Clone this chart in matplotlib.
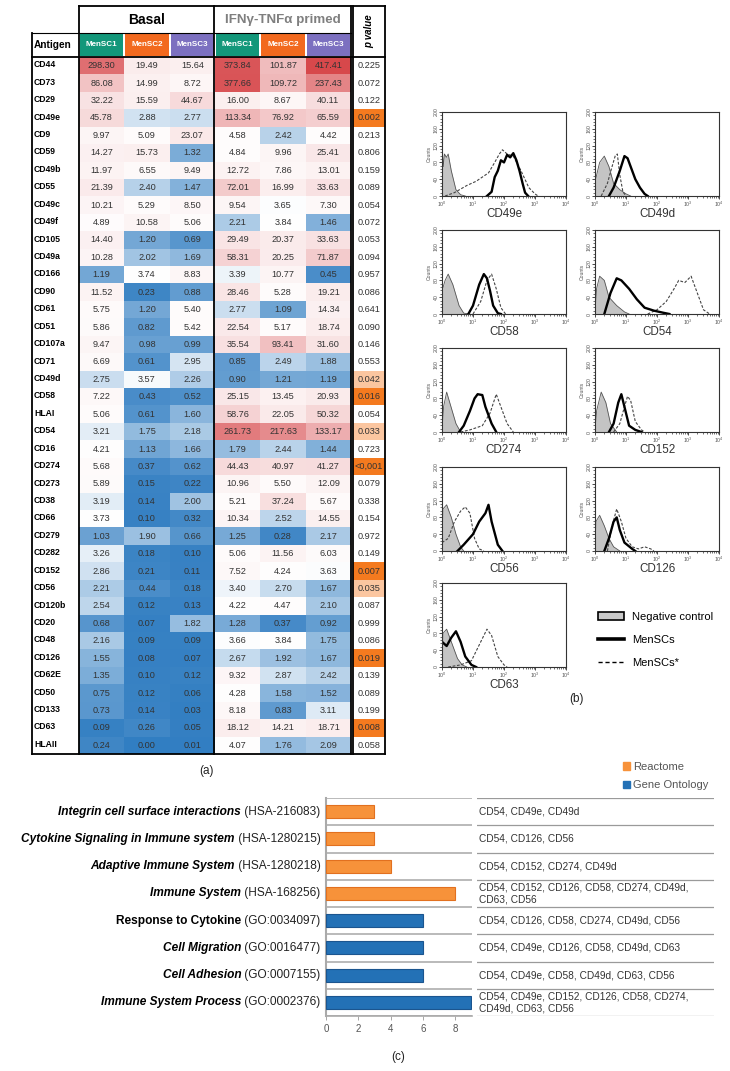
import numpy as np
import matplotlib
matplotlib.use("Agg")
import matplotlib.pyplot as plt
from matplotlib.patches import Patch, Rectangle
from matplotlib.lines import Line2D
from matplotlib.ticker import MultipleLocator, LogLocator, NullFormatter

plt.rcParams['font.family'] = ['Liberation Sans', 'DejaVu Sans']

W, H = 730, 1071

# ---------------- (a) table data ----------------
antigens = ["CD44", "CD73", "CD29", "CD49e", "CD9", "CD59", "CD49b", "CD55", "CD49c", "CD49f",
            "CD105", "CD49a", "CD166", "CD90", "CD61", "CD51", "CD107a", "CD71", "CD49d", "CD58",
            "HLAI", "CD54", "CD16", "CD274", "CD273", "CD38", "CD66", "CD279", "CD282", "CD152",
            "CD56", "CD120b", "CD20", "CD48", "CD126", "CD62E", "CD50", "CD133", "CD63", "HLAII"]
basal1 = [298.30, 86.08, 32.22, 45.78, 9.97, 14.27, 11.97, 21.39, 10.21, 4.89, 14.40, 10.28, 1.19, 11.52,
          5.75, 5.86, 9.47, 6.69, 2.75, 7.22, 5.06, 3.21, 4.21, 5.68, 5.89, 3.19, 3.73, 1.03, 3.26, 2.86,
          2.21, 2.54, 0.68, 2.16, 1.55, 1.35, 0.75, 0.73, 0.09, 0.24]
basal2 = [19.49, 14.99, 15.59, 2.88, 5.09, 15.73, 6.55, 2.40, 5.29, 10.58, 1.20, 2.02, 3.74, 0.23,
          1.20, 0.82, 0.98, 0.61, 3.57, 0.43, 0.61, 1.75, 1.13, 0.37, 0.15, 0.14, 0.10, 1.90, 0.18, 0.21,
          0.44, 0.12, 0.07, 0.09, 0.08, 0.10, 0.12, 0.14, 0.26, 0.00]
basal3 = [15.64, 8.72, 44.67, 2.77, 23.07, 1.32, 9.49, 1.47, 8.50, 5.06, 0.69, 1.69, 8.83, 0.88,
          5.40, 5.42, 0.99, 2.95, 2.26, 0.52, 1.60, 2.18, 1.66, 0.62, 0.22, 2.00, 0.32, 0.66, 0.10, 0.11,
          0.18, 0.13, 1.82, 0.09, 0.07, 0.12, 0.06, 0.03, 0.05, 0.01]
primed1 = [373.84, 377.66, 16.00, 113.34, 4.58, 4.84, 12.72, 72.01, 9.54, 2.21, 29.49, 58.31, 3.39, 28.46,
           2.77, 22.54, 35.54, 0.85, 0.90, 25.15, 58.76, 261.73, 1.79, 44.43, 10.96, 5.21, 10.34, 1.25, 5.06, 7.52,
           3.40, 4.22, 1.28, 3.66, 2.67, 9.32, 4.28, 8.18, 18.12, 4.07]
primed2 = [101.87, 109.72, 8.67, 76.92, 2.42, 9.96, 7.86, 16.99, 3.65, 3.84, 20.37, 20.25, 10.77, 5.28,
           1.09, 5.17, 93.41, 2.49, 1.21, 13.45, 22.05, 217.63, 2.44, 40.97, 5.50, 37.24, 2.52, 0.28, 11.56, 4.24,
           2.70, 4.47, 0.37, 3.84, 1.92, 2.87, 1.58, 0.83, 14.21, 1.76]
primed3 = [417.41, 237.43, 40.11, 65.59, 4.42, 25.41, 13.01, 33.63, 7.30, 1.46, 33.63, 71.87, 0.45, 19.21,
           14.34, 18.74, 31.60, 1.88, 1.19, 20.93, 50.32, 133.17, 1.44, 41.27, 12.09, 5.67, 14.55, 2.17, 6.03, 3.63,
           1.67, 2.10, 0.92, 1.75, 1.67, 2.42, 1.52, 3.11, 18.71, 2.09]
pvalues = ["0.225", "0.072", "0.122", "0.002", "0.213", "0.806", "0.159", "0.089", "0.054", "0.072",
           "0.053", "0.094", "0.957", "0.086", "0.641", "0.090", "0.146", "0.553", "0.042", "0.016",
           "0.054", "0.033", "0.723", "<0,001", "0.079", "0.338", "0.154", "0.972", "0.149", "0.007",
           "0.035", "0.087", "0.999", "0.086", "0.019", "0.139", "0.089", "0.199", "0.008", "0.058"]
col_names = ["MenSC1", "MenSC2", "MenSC3", "MenSC1", "MenSC2", "MenSC3"]
col_colors = ["#13977a", "#f2691e", "#7c70c0", "#13977a", "#f2691e", "#7c70c0"]

# ---------------- (b) histogram curves, (log10 intensity, counts) ----------------
# each: [negative control, MenSCs, MenSCs*]
CD49E = [[(0, 0), (0.0, 130), (0.04, 70), (0.08, 100), (0.14, 92), (0.2, 100), (0.3, 60), (0.45, 15), (0.6, 3), (0.75, 0)],
         [(1.45, 0), (1.6, 10), (1.7, 45), (1.8, 60), (1.9, 85), (2.0, 80), (2.1, 98), (2.2, 92), (2.3, 102), (2.4, 85), (2.5, 60), (2.6, 30), (2.68, 8), (2.78, 0)],
         [(0.1, 0), (0.4, 8), (0.8, 25), (1.1, 35), (1.3, 45), (1.5, 55), (1.7, 80), (1.85, 100), (1.95, 110), (2.1, 100), (2.3, 95), (2.55, 60), (2.8, 20), (3.0, 5), (3.1, 0)]]
CD49D = [[(0, 0), (0.02, 40), (0.15, 80), (0.3, 95), (0.45, 70), (0.6, 30), (0.8, 15), (1.0, 5), (1.15, 0)],
         [(0.45, 0), (0.6, 20), (0.8, 60), (0.95, 95), (1.05, 90), (1.2, 60), (1.3, 40), (1.45, 20), (1.6, 5), (1.7, 0)],
         [(0.2, 0), (0.4, 30), (0.55, 70), (0.65, 95), (0.72, 100), (0.8, 50), (0.9, 10), (1.0, 0)]]
CD58 = [[(0, 0), (0.02, 60), (0.1, 80), (0.2, 95), (0.35, 70), (0.55, 20), (0.7, 2), (0.9, 0)],
        [(0.85, 0), (1.0, 20), (1.1, 45), (1.2, 70), (1.35, 95), (1.45, 85), (1.55, 55), (1.65, 20), (1.8, 2), (1.9, 0)],
        [(1.0, 0), (1.25, 30), (1.45, 80), (1.6, 95), (1.75, 60), (1.9, 15), (2.05, 0)]]
CD54 = [[(0, 0), (0.05, 60), (0.15, 90), (0.3, 80), (0.45, 40), (0.7, 20), (0.95, 5), (1.1, 0)],
        [(0.3, 0), (0.5, 50), (0.7, 85), (0.85, 80), (1.1, 60), (1.35, 35), (1.6, 15), (1.9, 8), (2.2, 3), (2.4, 0)],
        [(1.7, 0), (2.0, 10), (2.3, 30), (2.55, 60), (2.7, 80), (2.9, 75), (3.1, 90), (3.25, 60), (3.5, 10), (3.7, 0)]]
CD274 = [[(0, 0), (0.05, 60), (0.15, 95), (0.25, 70), (0.45, 20), (0.6, 0)],
         [(0.55, 0), (0.7, 15), (0.9, 50), (1.05, 80), (1.15, 90), (1.3, 88), (1.4, 60), (1.6, 20), (1.75, 0)],
         [(0.6, 0), (0.9, 5), (1.3, 15), (1.55, 45), (1.75, 90), (1.9, 60), (2.1, 20), (2.3, 0)]]
CD152 = [[(0, 0), (0.05, 50), (0.2, 95), (0.35, 70), (0.5, 20), (0.7, 0)],
         [(0.45, 0), (0.6, 20), (0.75, 70), (0.85, 90), (0.95, 60), (1.1, 15), (1.3, 5), (1.5, 0)],
         [(0.6, 0), (0.8, 20), (0.95, 60), (1.05, 85), (1.15, 75), (1.3, 25), (1.5, 5), (1.6, 0)]]
CD56 = [[(0, 0), (0.03, 100), (0.15, 110), (0.3, 80), (0.45, 40), (0.6, 10), (0.7, 0)],
        [(0.5, 0), (0.7, 15), (1.0, 40), (1.2, 70), (1.4, 90), (1.5, 110), (1.6, 70), (1.8, 15), (1.95, 0)],
        [(0, 20), (0.2, 30), (0.4, 70), (0.6, 95), (0.75, 105), (0.9, 90), (1.05, 30), (1.2, 5), (1.35, 0)]]
CD126 = [[(0, 0), (0.03, 70), (0.15, 85), (0.3, 60), (0.45, 30), (0.6, 10), (0.8, 0)],
         [(0.3, 0), (0.45, 30), (0.6, 70), (0.7, 80), (0.8, 50), (0.95, 20), (1.2, 5), (1.3, 0)],
         [(0.4, 0), (0.55, 60), (0.7, 100), (0.85, 70), (1.0, 30), (1.2, 10), (1.4, 5), (1.6, 10), (1.8, 5), (1.9, 0)]]
CD63 = [[(0, 0), (0.03, 80), (0.15, 90), (0.3, 60), (0.5, 20), (0.65, 5), (0.8, 0)],
        [(0, 60), (0.15, 50), (0.3, 70), (0.45, 85), (0.6, 60), (0.75, 25), (0.95, 5), (1.1, 0)],
        [(0.2, 0), (0.6, 5), (0.95, 15), (1.25, 60), (1.45, 90), (1.6, 75), (1.8, 25), (2.0, 5), (2.1, 0)]]
hist_names = ["CD49e", "CD49d", "CD58", "CD54", "CD274", "CD152", "CD56", "CD126", "CD63"]
hist_data = [CD49E, CD49D, CD58, CD54, CD274, CD152, CD56, CD126, CD63]

# ---------------- (c) enrichment data ----------------
terms = ["Integrin cell surface interactions", "Cytokine Signaling in Immune system",
         "Adaptive Immune System", "Immune System", "Response to Cytokine",
         "Cell Migration", "Cell Adhesion", "Immune System Process"]
term_ids = ["(HSA-216083)", "(HSA-1280215)", "(HSA-1280218)", "(HSA-168256)",
            "(GO:0034097)", "(GO:0016477)", "(GO:0007155)", "(GO:0002376)"]
term_italic = [True, True, True, True, False, True, True, True]
gene_counts = [3, 3, 4, 8, 6, 6, 6, 9]
sources = ["Reactome"] * 4 + ["Gene Ontology"] * 4
gene_lists = ["CD54, CD49e, CD49d",
              "CD54, CD126, CD56",
              "CD54, CD152, CD274, CD49d",
              "CD54, CD152, CD126, CD58, CD274, CD49d,\nCD63, CD56",
              "CD54, CD126, CD58, CD274, CD49d, CD56",
              "CD54, CD49e, CD126, CD58, CD49d, CD63",
              "CD54, CD49e, CD58, CD49d, CD63, CD56",
              "CD54, CD49e, CD152, CD126, CD58, CD274,\nCD49d, CD63, CD56"]


def box(x, y, w, h):
    return [x / W, 1 - (y + h) / H, w / W, h / H]


def cell_rgb(v):
    mid, top = 3.7, 417.41
    white = np.array([1.0, 1.0, 1.0])
    blue = np.array([50, 126, 194]) / 255
    red = np.array([215, 72, 75]) / 255
    if v <= mid:
        t = (mid - v) / mid
        return white + (blue - white) * t
    t = min(1.0, ((v - mid) / (top - mid)) ** 0.7)
    return white + (red - white) * t


def p_rgb(p):
    val = 0.0005 if p.startswith("<") else float(p)
    if val <= 0.02:
        return matplotlib.colors.to_rgb("#f47a1f")
    if val <= 0.05:
        return matplotlib.colors.to_rgb("#fbc6a0")
    return (1, 1, 1)


fig = plt.figure(figsize=(W / 100, H / 100), dpi=100)

# ---------- heatmap ----------
values = np.array([basal1, basal2, basal3, primed1, primed2, primed3]).T
rgb = np.array([[cell_rgb(v) for v in row] for row in values])
axh = fig.add_axes(box(79, 57, 272, 697))
axh.imshow(rgb, aspect='auto', interpolation='nearest', extent=(-0.5, 5.5, 39.5, -0.5))
axh.axis('off')
for i in range(len(antigens)):
    for j in range(6):
        axh.text(j, i, f"{values[i, j]:.2f}", ha='center', va='center', fontsize=6.6, color='#333333')
    axh.text(-1.49, i - 0.05, antigens[i], ha='left', va='center', fontsize=6.2,
             fontweight='bold', color='black', clip_on=False)

axp = fig.add_axes(box(353, 57, 32, 697))
prgb = np.array([[p_rgb(p)] for p in pvalues])
axp.imshow(prgb, aspect='auto', interpolation='nearest', extent=(-0.5, 0.5, 39.5, -0.5))
axp.axis('off')
for i, p in enumerate(pvalues):
    axp.text(0, i, p, ha='center', va='center', fontsize=6.6, color='#333333')

# ---------- overlay (table frame, headers, labels) ----------
ov = fig.add_axes([0, 0, 1, 1], zorder=5)
ov.set_xlim(0, W)
ov.set_ylim(H, 0)
ov.axis('off')

cw = 272 / 6
for j in range(6):
    x = 79 + j * cw
    ov.add_patch(Rectangle((x + 1, 34), cw - 2, 21.5, color=col_colors[j], lw=0))
    ov.text(x + cw / 2, 45, col_names[j], ha='center', va='center', fontsize=5.8,
            fontweight='bold', color='white')
ov.text(146.5, 20, "Basal", ha='center', va='center', fontsize=10, fontweight='bold')
ov.text(282.5, 20, "IFNγ-TNFα primed", ha='center', va='center', fontsize=9.6,
        fontweight='bold', color='#7f7f7f')
ov.text(34, 45, "Antigen", ha='left', va='center', fontsize=7.3, fontweight='bold')
ov.text(369, 31, "p value", ha='center', va='center', fontsize=7, fontweight='bold',
        fontstyle='italic', rotation=90)

lk = dict(color='black', lw=1.3, solid_capstyle='projecting')
for x, y0 in [(32, 33), (79, 6), (214, 6), (351, 6), (353, 6), (385, 6)]:
    ov.plot([x, x], [y0, 754], **lk)
ov.plot([79, 351], [6, 6], **lk)
ov.plot([353, 385], [6, 6], **lk)
ov.plot([32, 351], [33, 33], color='black', lw=0.8)
ov.plot([32, 385], [56.5, 56.5], **lk)
ov.plot([32, 351], [754, 754], **lk)
ov.plot([353, 385], [754, 754], **lk)

ov.text(206, 771, "(a)", ha='center', va='center', fontsize=8.5, color='#222222')
ov.text(577, 699, "(b)", ha='center', va='center', fontsize=8.5, color='#222222')
ov.text(398, 1057, "(c)", ha='center', va='center', fontsize=8.5, color='#222222')

# ---------- (b) histograms ----------
lefts = [442, 595]
tops = [112, 230, 348, 467, 583]
for k, (name, curves) in enumerate(zip(hist_names, hist_data)):
    r, c = divmod(k, 2)
    ax = fig.add_axes(box(lefts[c], tops[r], 124, 84))
    neg, sol, dash = [np.array(cv) for cv in curves]
    ax.fill_between(10 ** neg[:, 0], neg[:, 1], color='#c4c4c4', lw=0)
    ax.plot(10 ** neg[:, 0], neg[:, 1], color='#555555', lw=0.6)
    ax.plot(10 ** dash[:, 0], dash[:, 1], color='#444444', lw=0.8, ls=(0, (2.5, 1.5)))
    ax.plot(10 ** sol[:, 0], sol[:, 1], color='black', lw=1.7)
    ax.set_xscale('log')
    ax.set_xlim(1, 1e4)
    ax.set_ylim(0, 200)
    ax.set_yticks(range(0, 201, 40))
    ax.set_yticklabels([str(v) for v in range(0, 201, 40)], rotation=90, va='center', fontsize=3.6,
                       color='#555555')
    ax.yaxis.set_minor_locator(MultipleLocator(8))
    ax.xaxis.set_major_locator(LogLocator(base=10, numticks=6))
    ax.xaxis.set_minor_locator(LogLocator(base=10, subs=np.arange(2, 10), numticks=20))
    ax.xaxis.set_minor_formatter(NullFormatter())
    ax.tick_params(which='major', length=2.0, width=0.5, pad=0.5, labelsize=3.8, labelcolor='#555555')
    ax.tick_params(which='minor', length=1.2, width=0.4)
    ax.set_ylabel("Counts", fontsize=3.6, labelpad=1, color='#555555')
    for sp in ax.spines.values():
        sp.set_linewidth(0.8)
        sp.set_color('#333333')
    ov.text(lefts[c] + 62, tops[r] + 96, name, ha='center', va='top', fontsize=8.4, color='#333333')

fig.legend(handles=[Patch(facecolor='#c8c8c8', edgecolor='black', lw=1.2),
                    Line2D([], [], color='black', lw=2.6),
                    Line2D([], [], color='black', lw=1.0, ls=(0, (3, 2)))],
           labels=["Negative control", "MenSCs", "MenSCs*"],
           loc='upper left', bbox_to_anchor=(588 / W, 1 - 602 / H), frameon=False, fontsize=8,
           handlelength=2.3, handletextpad=0.8, labelspacing=1.15)

# ---------- (c) enrichment bars ----------
axc = fig.add_axes(box(326, 798, 146, 218))
ypos = np.arange(len(terms))
face = {"Reactome": "#f7923a", "Gene Ontology": "#2371b6"}
edge = {"Reactome": "#e2701f", "Gene Ontology": "#1b558f"}
axc.barh(ypos, gene_counts, height=0.48, color=[face[s] for s in sources],
         edgecolor=[edge[s] for s in sources], lw=0.8, zorder=3)
for k in range(len(terms) + 1):
    axc.axhline(k - 0.5, color='#b4b4b4', lw=1.3, zorder=1)
axc.set_xlim(0, 9.05)
axc.set_ylim(len(terms) - 0.5, -0.5)
axc.set_xticks([0, 2, 4, 6, 8])
axc.set_yticks([])
axc.tick_params(axis='x', length=3, width=0.6, color='#999999', labelsize=7, labelcolor='#555555', pad=3)
for s in ['top', 'right']:
    axc.spines[s].set_visible(False)
axc.spines['left'].set_color('#aaaaaa')
axc.spines['left'].set_linewidth(1.5)
axc.spines['bottom'].set_color('#aaaaaa')
axc.spines['bottom'].set_linewidth(1.2)

id_texts = []
for k in range(len(terms)):
    t = axc.annotate(" " + term_ids[k], xy=(0, k), xytext=(-4, 0), textcoords='offset points',
                     ha='right', va='center', fontsize=8.6, color='#222222', annotation_clip=False)
    id_texts.append(t)

axg = fig.add_axes(box(477, 798, 237, 218))
axg.set_xlim(0, 1)
axg.set_ylim(len(terms) - 0.5, -0.5)
axg.axis('off')
for k in range(len(terms) + 1):
    axg.axhline(k - 0.5, color='#9a9a9a', lw=0.9)
for k, g in enumerate(gene_lists):
    axg.text(0.01, k, g, ha='left', va='center', fontsize=7.3, color='#333333', linespacing=1.25)

fig.legend(handles=[Patch(color=face["Reactome"]), Patch(color=face["Gene Ontology"])],
           labels=["Reactome", "Gene Ontology"], loc='upper left',
           bbox_to_anchor=(613 / W, 1 - 752 / H), frameon=False, fontsize=8,
           handlelength=0.6, handleheight=0.7, handletextpad=0.3, labelspacing=0.75,
           labelcolor='#555555')

fig.canvas.draw()
for k, t in enumerate(id_texts):
    bb = t.get_window_extent()
    ov.text(bb.x0, H - (bb.y0 + bb.y1) / 2, terms[k], ha='right', va='center', fontsize=8.6,
            fontweight='bold', fontstyle='italic' if term_italic[k] else 'normal', color='black')

fig.savefig("out.png", dpi=100)
